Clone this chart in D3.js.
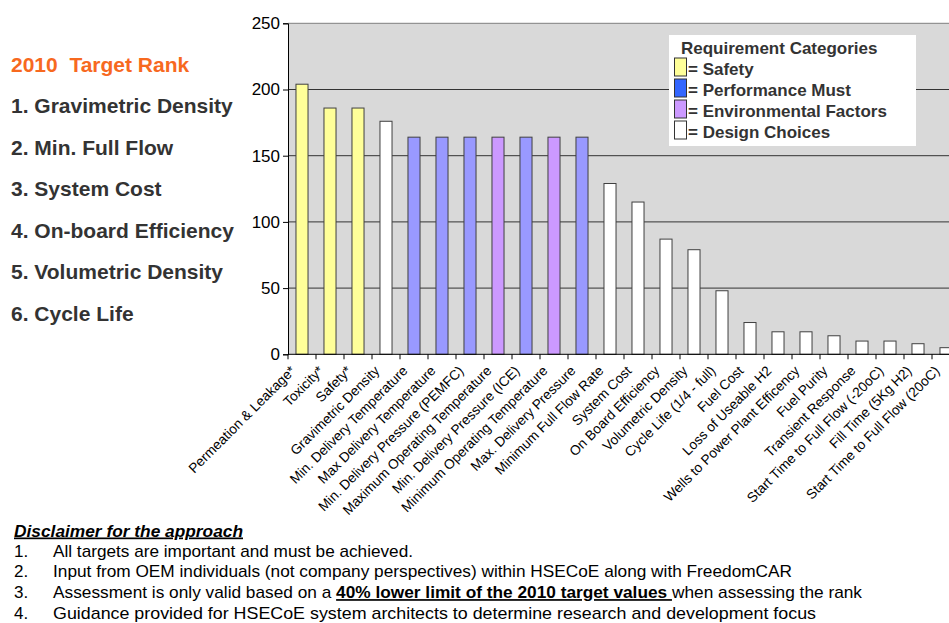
<!DOCTYPE html>
<html>
<head>
<meta charset="utf-8">
<script src="https://cdn.jsdelivr.net/npm/d3@7"></script>
<style>
  html, body { margin: 0; padding: 0; background: #fff; }
  svg { display: block; }
  text { font-family: Arial, "Liberation Sans", Helvetica, sans-serif; }
</style>
</head>
<body>
<svg id="chart" width="949" height="623"></svg>
<script>
// Requirement names, in ranked order
const categories = [
  "Permeation & Leakage*", "Toxicity*", "Safety*", "Gravimetric Density",
  "Min. Delivery Temperature", "Max Delivery Temperature",
  "Min. Delivery Pressure (PEMFC)", "Maximum Operating Temperature",
  "Min. Delivery Pressure (ICE)", "Minimum Operating Temperature",
  "Max. Delivery Pressure", "Minimum Full Flow Rate", "System Cost",
  "On Board Efficiency", "Volumetric Density", "Cycle Life (1/4 - full)",
  "Fuel Cost", "Loss of Useable H2", "Wells to Power Plant Efficency",
  "Fuel Purity", "Transient Response", "Start Time to Full Flow (-20oC)",
  "Fill Time (5Kg H2)", "Start Time to Full Flow (20oC)"
];
// Score of each requirement
const scores = [204, 186, 186, 176, 164, 164, 164, 164, 164, 164, 164, 129,
                115, 87, 79, 48, 24, 17, 17, 14, 10, 10, 8, 5];
// Category group of each requirement
const groups = ["S", "S", "S", "D", "P", "P", "P", "E", "P", "E", "P", "D",
                "D", "D", "D", "D", "D", "D", "D", "D", "D", "D", "D", "D"];
const yTicks = [0, 50, 100, 150, 200, 250];

const legendItems = [
  { key: "S", label: "= Safety" },
  { key: "P", label: "= Performance Must" },
  { key: "E", label: "= Environmental Factors" },
  { key: "D", label: "= Design Choices" }
];
const rankTitle = "2010  Target Rank";
const rankList = ["1. Gravimetric Density", "2. Min. Full Flow", "3. System Cost",
                  "4. On-board Efficiency", "5. Volumetric Density", "6. Cycle Life"];

const barFill = { S: "#ffff99", P: "#9999ff", E: "#cc99ff", D: "#ffffff" };
const swatchFill = { S: "#ffff99", P: "#3366ff", E: "#cc99ff", D: "#ffffff" };

const svg = d3.select("#chart");

// Plot frame
const x0 = 288, x1 = 960, yTop = 23.3, yBot = 354.3;
const x = d3.scaleBand().domain(categories).range([x0, x1])
  .paddingInner(0.57).paddingOuter(0.285);
const y = d3.scaleLinear().domain([0, 250]).range([yBot, yTop]);

svg.append("rect").attr("x", x0).attr("y", yTop)
  .attr("width", x1 - x0).attr("height", yBot - yTop).attr("fill", "#d9d9d9");

// Horizontal gridlines
svg.append("g").selectAll("line").data(yTicks.filter(d => d > 0)).join("line")
  .attr("x1", x0).attr("x2", x1)
  .attr("y1", d => y(d)).attr("y2", d => y(d))
  .attr("stroke", d => d === 250 ? "#7f7f7f" : "#333").attr("stroke-width", 1);

// Bars
svg.append("g").selectAll("rect").data(categories).join("rect")
  .attr("x", d => x(d))
  .attr("y", (d, i) => y(scores[i]))
  .attr("width", x.bandwidth())
  .attr("height", (d, i) => y(0) - y(scores[i]))
  .attr("fill", (d, i) => barFill[groups[i]])
  .attr("stroke", "#404040").attr("stroke-width", 1);

// Y axis
const yAxis = d3.axisLeft(y).tickValues(yTicks).tickSize(5).tickPadding(3);
const gy = svg.append("g").attr("transform", `translate(${x0},0)`).call(yAxis);
gy.select(".domain").attr("stroke", "#000");
gy.selectAll(".tick line").attr("stroke", "#000");
gy.selectAll(".tick text").attr("font-size", 17).attr("fill", "#000")
  .attr("font-family", "Arial, 'Liberation Sans', sans-serif");

// X axis baseline and tick marks at band boundaries
const step = x.step();
svg.append("line").attr("x1", x0).attr("x2", x1).attr("y1", yBot).attr("y2", yBot)
  .attr("stroke", "#000");
svg.append("g").selectAll("line").data(d3.range(categories.length + 1)).join("line")
  .attr("x1", k => x0 + step * k).attr("x2", k => x0 + step * k)
  .attr("y1", yBot).attr("y2", yBot + 5).attr("stroke", "#000");

// Rotated category labels
svg.append("g").selectAll("text").data(categories).join("text")
  .attr("transform", d => `translate(${x(d) + x.bandwidth() / 2 - 9},${yBot + 14}) rotate(-45)`)
  .attr("text-anchor", "end")
  .attr("dy", "0.35em")
  .attr("font-size", 13.7)
  .attr("fill", "#000")
  .text(d => d);

// Legend
const lg = svg.append("g");
lg.append("rect").attr("x", 669).attr("y", 35).attr("width", 247).attr("height", 111)
  .attr("fill", "#fff");
lg.append("text").attr("x", 681).attr("y", 54).attr("font-size", 17)
  .attr("font-weight", "bold").attr("fill", "#333").text("Requirement Categories");
legendItems.forEach((it, i) => {
  const yy = 58 + i * 21;
  lg.append("rect").attr("x", 674.5).attr("y", yy).attr("width", 12).attr("height", 18)
    .attr("fill", swatchFill[it.key]).attr("stroke", "#333").attr("stroke-width", 1);
  lg.append("text").attr("x", 688).attr("y", yy + 17).attr("font-size", 17)
    .attr("font-weight", "bold").attr("fill", "#333").text(it.label);
});

// Rank list on the left
svg.append("text").attr("x", 11).attr("y", 72).attr("font-size", 21)
  .attr("font-weight", "bold").attr("fill", "#f7691f")
  .style("white-space", "pre").text(rankTitle);
svg.append("g").selectAll("text").data(rankList).join("text")
  .attr("x", 11).attr("y", (d, i) => 113 + i * 41.6)
  .attr("font-size", 21).attr("font-weight", "bold").attr("fill", "#333")
  .text(d => d);

// Disclaimer notes
const noteFont = "'Liberation Sans Narrow', 'Arial Narrow', Arial, sans-serif";
svg.append("text").attr("x", 14).attr("y", 536.5).attr("font-size", 17)
  .attr("font-family", noteFont)
  .attr("font-weight", "bold").attr("font-style", "italic")
  .attr("text-decoration", "underline").attr("fill", "#000")
  .attr("textLength", 229).attr("lengthAdjust", "spacingAndGlyphs")
  .text("Disclaimer for the approach");

const notes = [
  { parts: [{ t: "All targets are important and must be achieved." }], end: 413 },
  { parts: [{ t: "Input from OEM individuals (not company perspectives) within HSECoE along with FreedomCAR" }], end: 792 },
  { parts: [{ t: "Assessment is only valid based on a " },
            { t: "40% lower limit of the 2010 target values ", b: true },
            { t: "when assessing the rank" }], end: 862 },
  { parts: [{ t: "Guidance provided for HSECoE system architects to determine research and development focus" }], end: 816 }
];
notes.forEach((n, i) => {
  const yy = 556.5 + i * 20.8;
  svg.append("text").attr("x", 14).attr("y", yy).attr("font-size", 17)
    .attr("font-family", noteFont).attr("fill", "#000").text(`${i + 1}.`);
  const t = svg.append("text").attr("x", 53).attr("y", yy).attr("font-size", 17)
    .attr("font-family", noteFont).attr("fill", "#000")
    .attr("textLength", n.end - 53).attr("lengthAdjust", "spacingAndGlyphs");
  n.parts.forEach(p => {
    const s = t.append("tspan").text(p.t);
    if (p.b) s.attr("font-weight", "bold").attr("text-decoration", "underline");
  });
});
</script>
</body>
</html>
